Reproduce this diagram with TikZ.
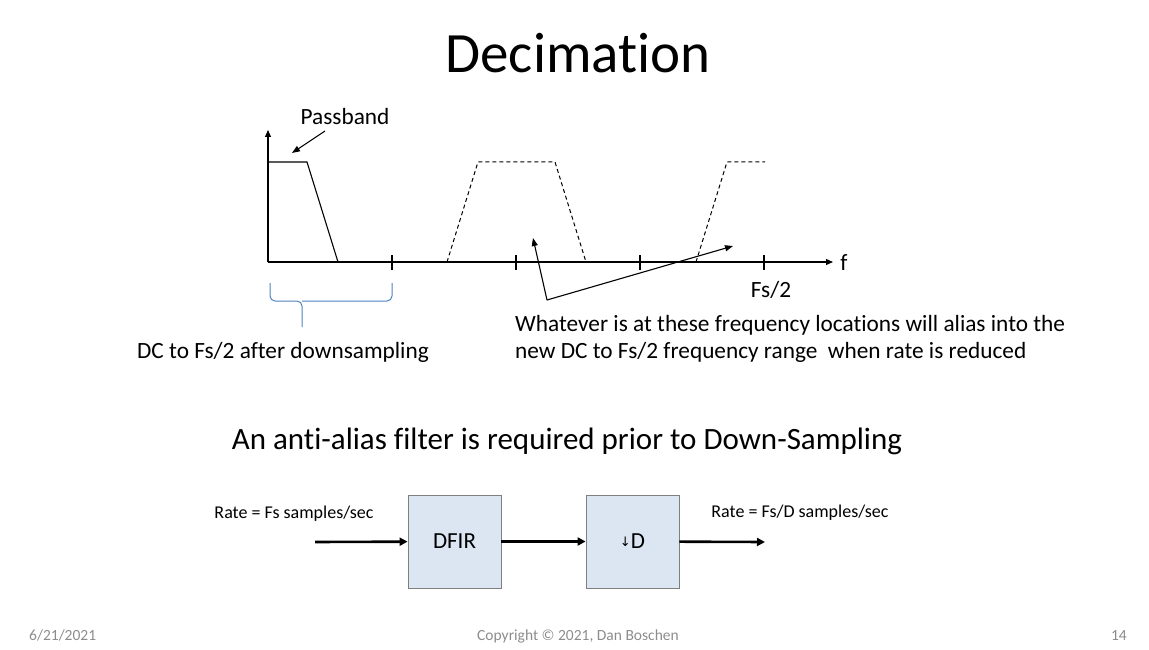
\documentclass[tikz,border=0pt]{standalone}
\usepackage{fontspec}
\setmainfont{Carlito}[Ligatures=NoCommon]
\newfontfamily\symfont{DejaVu Sans}
\usetikzlibrary{arrows.meta,positioning}
\definecolor{boxfill}{HTML}{DCE6F2}
\definecolor{boxline}{HTML}{7F7F7F}
\definecolor{bracecol}{HTML}{4F81BD}
\definecolor{footgray}{HTML}{8C8C8C}
\tikzset{
  axis/.style={line width=1.1pt, -{Triangle[length=7pt,width=6pt]}},
  callout/.style={line width=1.1pt, -{Triangle[length=8pt,width=6pt]}},
  image/.style={line width=1pt, dash pattern=on 4pt off 3pt},
  flow/.style={line width=2.6pt, -{Triangle[length=8pt,width=8pt]}},
  block/.style={draw=boxline, line width=0.8pt, fill=boxfill, minimum width=93pt, minimum height=93pt, inner sep=0pt, font=\fontsize{23}{27}\selectfont},
  txt/.style={inner sep=0pt, anchor=base, font=\fontsize{23.3}{28}\selectfont},
  foot/.style={inner sep=0pt, anchor=base, text=footgray, font=\fontsize{15.5}{18}\selectfont}
}
\begin{document}
\begin{tikzpicture}[x=1pt, y=-1pt]
    \useasboundingbox (0,0) rectangle (1149,650);

    % Title
    \node[inner sep=0pt, anchor=base, font=\fontsize{57}{64}\selectfont] (title) at (578,73) {Decimat\kern0pt ion};

    % Axes
    \draw[axis] (268,262) -- (268,130);
    \draw[axis] (268,262) -- (833,262);
    \node[txt] (f) at (844,270) {f};
    \foreach \x in {392,516,640,764}
      \draw[line width=1.1pt] (\x,255) -- (\x,270);

    % Passband (solid) and images (dashed)
    \draw[line width=1.1pt] (268,162) -- (307,162) -- (338,262);
    \draw[image] (447,262) -- (478,162) -- (555,162) -- (586,262);
    \draw[image] (696,262) -- (727,162) -- (765,162);

    % Labels on the spectrum
    \node[txt] (pass) at (345,125) {Passband};
    \draw[callout] (325,131) -- (292,153);
    \node[txt] (fs2) at (771,297) {Fs/2};
    \coordinate (knee) at (547,300);
    \draw[callout] (knee) -- (533,238);
    \draw[callout] (knee) -- (733,246);

    % Brace under the first band
    \draw[bracecol, line width=1pt, rounded corners=5pt] (270,283) -- (270,301) -- (302,301) -- (302,327);
    \draw[bracecol, line width=1pt, rounded corners=5pt] (392,283) -- (392,301) -- (302,301);
    \node[txt] (dcnote) at (283,358) {DC to Fs/2 after downsampling};
    \node[txt, anchor=base west] (alias1) at (515,331) {Whatever is at these frequency locat\kern0pt ions will alias into the};
    \node[txt, anchor=base west] (alias2) at (515,358) {new DC to Fs/2 frequency range\ \ when rate is reduced};

    % Block diagram
    \node[txt, font=\fontsize{31}{36}\selectfont] (note) at (567,449) {An ant\kern0pt i-alias filter is required prior to Down-Sampling};
    \coordinate (in) at (315,542);
    \node[block] (dfir) at (454.5,541.5) {DFIR};
    \node[block] (dec) at (632.5,541.5) {\raisebox{2pt}{\symfont\fontsize{13}{14}\selectfont ↓}D};
    \coordinate (out) at (765,542);
    \draw[flow] (in) -- (dfir);
    \draw[flow] (dfir) -- (dec);
    \draw[flow] (dec) -- (out);
    \node[txt, font=\fontsize{18}{21}\selectfont] (rin) at (294,518) {Rate = Fs samples/sec};
    \node[txt, font=\fontsize{18}{21}\selectfont] (rout) at (800,517) {Rate = Fs/D samples/sec};

    % Footer
    \node[foot, anchor=base west] (date) at (29,640) {6/21/2021};
    \node[foot] (copy) at (578,640) {Copyright © 2021, Dan Boschen};
    \node[foot, anchor=base east] (page) at (1127,640) {14};
\end{tikzpicture}
\end{document}
